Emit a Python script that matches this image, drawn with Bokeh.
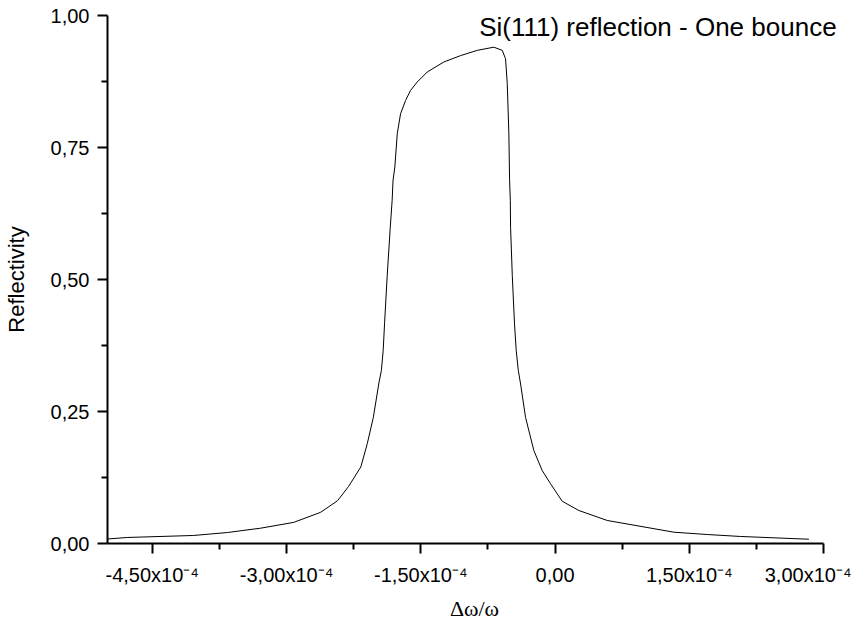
from bokeh.plotting import figure
from bokeh.models import Range1d, FixedTicker, Label
from bokeh.embed import file_html
from bokeh.resources import INLINE

# Data (delta omega / omega, reflectivity)
dw = [-5.00e-4, -4.78e-4, -4.04e-4, -3.66e-4, -3.29e-4, -2.92e-4, -2.62e-4, -2.43e-4,
      -2.307e-4, -2.17e-4, -2.098e-4, -2.03e-4, -1.97e-4, -1.94e-4, -1.92e-4, -1.905e-4,
      -1.875e-4, -1.841e-4, -1.82e-4, -1.81e-4, -1.79e-4, -1.763e-4, -1.726e-4, -1.67e-4,
      -1.615e-4, -1.54e-4, -1.428e-4, -1.242e-4, -1.056e-4, -0.869e-4, -0.684e-4, -0.59e-4,
      -0.553e-4, -0.534e-4, -0.516e-4, -0.508e-4, -0.500e-4, -0.497e-4, -0.478e-4,
      -0.453e-4, -0.434e-4, -0.411e-4, -0.385e-4, -0.330e-4, -0.237e-4, -0.143e-4,
      -0.050e-4, 0.08e-4, 0.266e-4, 0.583e-4, 1.327e-4, 1.70e-4, 2.073e-4, 2.836e-4]
refl = [0.0085, 0.0114, 0.0152, 0.0208, 0.029, 0.040, 0.059, 0.081,
        0.108, 0.145, 0.189, 0.239, 0.302, 0.328, 0.366, 0.416,
        0.508, 0.599, 0.650, 0.688, 0.713, 0.776, 0.814, 0.839,
        0.858, 0.874, 0.893, 0.912, 0.924, 0.934, 0.940, 0.934,
        0.918, 0.871, 0.776, 0.688, 0.650, 0.599, 0.508,
        0.416, 0.366, 0.328, 0.302, 0.239, 0.176, 0.138,
        0.113, 0.080, 0.0625, 0.0436, 0.0214, 0.017, 0.0133, 0.0081]

x_ticks = [-4.5e-4, -3.0e-4, -1.5e-4, 0.0, 1.5e-4, 3.0e-4]
x_tick_labels = ["-4,50x10\u207b\u2074", "-3,00x10\u207b\u2074", "-1,50x10\u207b\u2074",
                 "0,00", "1,50x10\u207b\u2074", "3,00x10\u207b\u2074"]
x_minor = [-3.75e-4, -2.25e-4, -0.75e-4, 0.75e-4, 2.25e-4]
y_ticks = [0.0, 0.25, 0.5, 0.75, 1.0]
y_tick_labels = ["0,00", "0,25", "0,50", "0,75", "1,00"]
y_minor = [0.125, 0.375, 0.625, 0.875]
x_start, x_end = -5.0e-4, 3.0e-4
x_view_end = 3.2e-4  # invisible extra frame room for the title text
y_start, y_end = 0.0, 1.0

title_text = "Si(111) reflection - One bounce"

p = figure(frame_width=734, frame_height=528, output_backend="svg", toolbar_location=None,
           x_range=Range1d(x_start, x_view_end), y_range=Range1d(y_start, y_end),
           min_border_left=107, min_border_right=10, min_border_top=15, min_border_bottom=80,
           x_axis_label="\u0394\u03c9/\u03c9", y_axis_label="Reflectivity")
p.outline_line_color = None
p.grid.visible = False
p.background_fill_color = "white"
p.border_fill_color = "white"

p.line(dw, refl, line_color="black", line_width=1)

for ax in (p.xaxis[0], p.yaxis[0]):
    ax.axis_line_width = 2
    ax.axis_line_color = "black"
    ax.major_tick_line_width = 2
    ax.minor_tick_line_width = 2
    ax.major_tick_line_color = "black"
    ax.minor_tick_line_color = "black"
    ax.major_tick_in = 0
    ax.major_tick_out = 10
    ax.minor_tick_in = 0
    ax.minor_tick_out = 6
    ax.major_label_text_font = "Liberation Sans"
    ax.major_label_text_font_size = "20px"
    ax.major_label_text_color = "black"
    ax.axis_label_text_font_style = "normal"
    ax.axis_label_text_color = "black"

p.xaxis.bounds = (x_start, x_end)
p.xaxis.ticker = FixedTicker(ticks=x_ticks, minor_ticks=x_minor)
p.xaxis.major_label_overrides = {t: l for t, l in zip(x_ticks, x_tick_labels)}
p.xaxis.major_label_standoff = 10
p.xaxis.axis_label_text_font = "Liberation Serif"
p.xaxis.axis_label_text_font_size = "22px"
p.xaxis.axis_label_standoff = 7

p.yaxis.ticker = FixedTicker(ticks=y_ticks, minor_ticks=y_minor)
p.yaxis.major_label_overrides = {t: l for t, l in zip(y_ticks, y_tick_labels)}
p.yaxis.major_label_standoff = 8
p.yaxis.axis_label_text_font = "Liberation Sans"
p.yaxis.axis_label_text_font_size = "22px"
p.yaxis.axis_label_standoff = 19

p.add_layout(Label(x=x_end, y=y_end, x_offset=13, y_offset=-11, text=title_text,
                   text_align="right", text_baseline="alphabetic",
                   text_font="Liberation Sans", text_font_size="26px", text_color="black"))

open("out.html", "w").write(file_html(p, INLINE))
